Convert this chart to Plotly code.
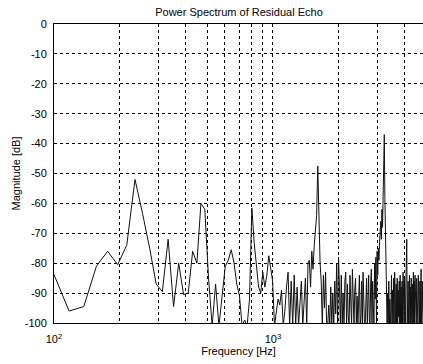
import plotly.graph_objects as go

# FFT bin spacing (10 kHz sampling, 512-point FFT) and first bin index
bin_hz = 10000 / 512
first_bin = 5

# Magnitude [dB] per bin (bins 5 .. 248)
mag_db = [
    -82, -96, -94.5, -81, -76, -80.5, -74, -52, -63.5, -75,          # 5-14
    -87, -89.5, -72, -94.5, -80, -90.5, -90, -76, -80, -60,          # 15-24
    -62, -85, -101, -87, -101, -90, -81, -79, -75.5, -80,            # 25-34
    -87, -91, -101, -99, -101, -92, -61.5, -73, -81, -88,            # 35-44
    -90, -83, -88, -84, -77.5, -82, -86, -101, -97, -92,             # 45-54
    -94, -89, -101, -96, -88, -83, -101, -86, -101, -84,             # 55-64
    -101, -88, -101, -93, -86, -101, -90, -85, -101, -80,            # 65-74
    -79, -88, -76, -82, -74, -70, -64, -47.5, -68, -80,              # 75-84
    -86, -101, -84, -95, -83, -101, -101, -94, -101, -88,            # 85-94
    -101, -90, -101, -86, -97, -80, -101, -78, -88, -101,            # 95-104
    -84, -101, -90, -101, -86, -83, -101, -87, -98, -101,            # 105-114
    -84, -96, -101, -82, -95, -101, -89, -85, -101, -91,             # 115-124
    -101, -87, -84, -101, -98, -86, -101, -83, -95, -101,            # 125-134
    -101, -91, -85, -101, -89, -84, -99, -101, -87, -82,             # 135-144
    -101, -86, -94, -101, -80, -92, -78, -101, -76, -84,             # 145-154
    -75, -79, -73, -70, -66, -72, -62, -68, -57, -50,                # 155-164
    -37, -58, -72, -84, -101, -101, -90, -101, -86, -101,            # 165-174
    -92, -101, -96, -84, -101, -89, -101, -85, -101, -83,            # 175-184
    -90, -101, -87, -101, -85, -101, -89, -98, -86, -101,            # 185-194
    -84, -101, -88, -101, -86, -101, -83, -90, -101, -85,            # 195-204
    -101, -101, -87, -81, -72, -101, -95, -86, -101, -90,            # 205-214
    -84, -101, -88, -101, -85, -97, -101, -87, -101, -83,            # 215-224
    -101, -86, -101, -84, -92, -101, -101, -85, -101, -89,           # 225-234
    -101, -84, -101, -87, -101, -86, -101, -88, -82, -101,           # 235-244
    -95, -86, -101, -101,                                            # 245-248
]
freq_hz = [(first_bin + i) * bin_hz for i in range(len(mag_db))]

x_grid = [100, 200, 300, 400, 500, 600, 700, 800, 900, 1000, 2000, 3000, 4000]
x_text = ["10<sup>2</sup>", "", "", "", "", "", "", "", "", "10<sup>3</sup>", "", "", ""]
y_ticks = [0, -10, -20, -30, -40, -50, -60, -70, -80, -90, -100]
y_text = ["0", "-10", "-20", "-30", "-40", "-50", "-60", "-70", "-80", "-90", "-100"]

fig = go.Figure()
fig.add_trace(go.Scatter(
    x=freq_hz, y=mag_db, mode="lines",
    line=dict(color="#111111", width=1),
    hoverinfo="skip", showlegend=False,
))

font = dict(family="Liberation Sans, Arial, sans-serif", size=11, color="black")

fig.update_layout(
    width=423, height=364,
    margin=dict(l=54, r=0, t=24, b=41),
    paper_bgcolor="white", plot_bgcolor="white",
    font=font,
    title=dict(text="Power Spectrum of Residual Echo", x=0.565, xanchor="center",
               y=1 - 12 / 364, yanchor="middle", font=font),
)
fig.update_xaxes(
    type="log", range=[2, 3.685],
    tickvals=x_grid, ticktext=x_text, tickangle=0,
    showgrid=True, gridcolor="black", gridwidth=1, griddash="3px,3px",
    showline=True, linecolor="black", linewidth=1, mirror=True,
    ticks="", zeroline=False, ticklabelstandoff=6,
    title=dict(text="Frequency [Hz]", font=font, standoff=2),
    tickfont=font,
)
fig.update_yaxes(
    range=[-100, 0],
    tickvals=y_ticks, ticktext=y_text,
    showgrid=True, gridcolor="black", gridwidth=1, griddash="3px,3px",
    showline=True, linecolor="black", linewidth=1, mirror=False,
    ticks="", zeroline=False, ticklabelstandoff=4,
    title=dict(text="Magnitude [dB]", font=font, standoff=1),
    tickfont=font,
)

fig.write_html("out.html")
